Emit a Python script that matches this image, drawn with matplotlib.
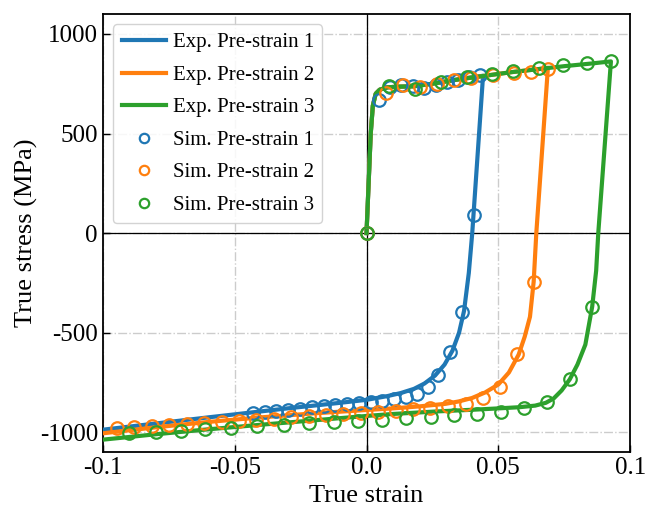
import numpy as np
import matplotlib
matplotlib.use('Agg')
import matplotlib.pyplot as plt
from matplotlib.ticker import FixedLocator, FixedFormatter

plt.rcParams['font.family'] = ['Liberation Serif', 'DejaVu Serif']
plt.rcParams['axes.unicode_minus'] = False

# experimental curves (strain, stress MPa)
exp1_x = [0.0, 0.0008, 0.0016, 0.0024, 0.0035, 0.005, 0.008, 0.012, 0.018, 0.025, 0.035, 0.0442,
          0.0401, 0.0388, 0.0370, 0.0351, 0.0326, 0.0296, 0.026, 0.022, 0.018, 0.013, 0.008, 0.003, 0.0,
          -0.01, -0.02, -0.03, -0.04, -0.06, -0.08, -0.1]
exp1_y = [0, 250, 500, 640, 700, 720, 732, 735, 737, 750, 772, 790,
          0, -200, -390, -500, -590, -660, -715, -755, -782, -803, -818, -830, -837,
          -852, -866, -880, -895, -925, -956, -987]
exp2_x = [0.0, 0.0008, 0.0016, 0.0024, 0.0035, 0.005, 0.008, 0.012, 0.018, 0.025, 0.035, 0.045, 0.055, 0.065, 0.0688,
          0.0644, 0.0634, 0.0620, 0.0600, 0.0577, 0.054, 0.050, 0.045, 0.040, 0.035, 0.030, 0.02, 0.01, 0.0,
          -0.02, -0.04, -0.06, -0.08, -0.1]
exp2_y = [0, 250, 500, 640, 700, 720, 732, 735, 737, 750, 772, 790, 808, 823, 830,
          0, -244, -420, -520, -610, -700, -760, -800, -828, -845, -857, -870, -880, -888,
          -905, -925, -948, -975, -1005]
exp3_x = [0.0, 0.0008, 0.0016, 0.0024, 0.0035, 0.005, 0.008, 0.012, 0.018, 0.025, 0.035, 0.045, 0.055, 0.065,
          0.075, 0.085, 0.0927,
          0.0879, 0.0871, 0.0856, 0.083, 0.080, 0.0771, 0.074, 0.071, 0.068, 0.064, 0.058, 0.05, 0.04,
          0.027, 0.01, 0.0, -0.02, -0.04, -0.06, -0.08, -0.1]
exp3_y = [0, 250, 500, 640, 700, 720, 732, 735, 737, 750, 772, 790, 808, 823,
          838, 851, 862,
          0, -189, -369, -560, -660, -734, -790, -830, -852, -866, -874, -880, -887,
          -895, -908, -918, -940, -962, -985, -1010, -1037]

# simulation points
sim1_x = [0.0, 0.0046, 0.0088, 0.0132, 0.0175, 0.0218, 0.0262, 0.0305, 0.0348, 0.0390, 0.0432,
          0.0406, 0.0363, 0.0315, 0.0273, 0.0233, 0.0191, 0.0148, 0.0104, 0.0059, 0.0016,
          -0.0030, -0.0073, -0.0118, -0.0163, -0.0208, -0.0251, -0.0297, -0.0342, -0.0385, -0.0430]
sim1_y = [0, 668, 735, 745, 738, 728, 745, 760, 770, 782, 792,
          90, -394, -596, -714, -773, -806, -823, -835, -843, -848,
          -854, -860, -865, -869, -874, -882, -887, -892, -896, -902]
sim2_x = [0.0, 0.0073, 0.0138, 0.0203, 0.0268, 0.0333, 0.0398, 0.0480, 0.0561, 0.0624, 0.0687,
          0.0634, 0.0571, 0.0505, 0.0442, 0.0376, 0.0308, 0.0242, 0.0176, 0.0110, 0.0044,
          -0.0022, -0.0088, -0.0154, -0.0220, -0.0286, -0.0352, -0.0418, -0.0484, -0.0550,
          -0.0616, -0.0682, -0.0748, -0.0814, -0.0880, -0.0946]
sim2_y = [0, 705, 745, 735, 748, 768, 780, 792, 803, 810, 823,
          -244, -609, -773, -830, -857, -867, -876, -884, -891, -897,
          -903, -909, -914, -920, -925, -931, -936, -942, -947,
          -953, -958, -964, -969, -975, -980]
sim3_x = [0.0, 0.0087, 0.0185, 0.0283, 0.0380, 0.0475, 0.0556, 0.0654, 0.0745, 0.0836, 0.0927,
          0.0856, 0.0771, 0.0684, 0.0598, 0.0511, 0.0420, 0.0333, 0.0244, 0.0150, 0.0058,
          -0.0034, -0.0125, -0.0220, -0.0314, -0.0415, -0.0515, -0.0612, -0.0705, -0.0800, -0.0900]
sim3_y = [0, 738, 722, 758, 783, 797, 812, 828, 843, 855, 864,
          -369, -734, -850, -880, -896, -906, -915, -921, -929, -936,
          -943, -948, -955, -962, -968, -978, -984, -992, -999, -1004]

xticks = [-0.1, -0.05, 0.0, 0.05, 0.1]
xtick_labels = ['-0.1', '-0.05', '0.0', '0.05', '0.1']
yticks = [-1000, -500, 0, 500, 1000]

colors = ['#1f77b4', '#ff7f0e', '#2ca02c']

fig = plt.figure(figsize=(6.51, 5.18), dpi=100)
ax = fig.add_axes([0.158, 0.127, 0.810, 0.846])

ax.axhline(0, color='black', lw=0.9, zorder=2)
ax.axvline(0, color='black', lw=0.9, zorder=2)

ax.plot(exp1_x, exp1_y, color=colors[0], lw=3, label='Exp. Pre-strain 1', zorder=3)
ax.plot(exp2_x, exp2_y, color=colors[1], lw=3, label='Exp. Pre-strain 2', zorder=3)
ax.plot(exp3_x, exp3_y, color=colors[2], lw=3, label='Exp. Pre-strain 3', zorder=3)

ms = 9
ax.plot(sim1_x, sim1_y, 'o', mfc='none', mec=colors[0], ms=ms, mew=1.6, label='Sim. Pre-strain 1', zorder=4)
ax.plot(sim2_x, sim2_y, 'o', mfc='none', mec=colors[1], ms=ms, mew=1.6, label='Sim. Pre-strain 2', zorder=4)
ax.plot(sim3_x, sim3_y, 'o', mfc='none', mec=colors[2], ms=ms, mew=1.6, label='Sim. Pre-strain 3', zorder=4)

ax.set_xlim(-0.1, 0.1)
ax.set_ylim(-1100, 1100)
ax.xaxis.set_major_locator(FixedLocator(xticks))
ax.xaxis.set_major_formatter(FixedFormatter(xtick_labels))
ax.set_yticks(yticks)
ax.tick_params(direction='in', labelsize=18, length=5, width=1)
ax.grid(True, ls='-.', color='#cccccc', lw=1)
for s in ax.spines.values():
    s.set_linewidth(1.3)

ax.set_xlabel('True strain', fontsize=19)
ax.set_ylabel('True stress (MPa)', fontsize=19, labelpad=1)

leg = ax.legend(loc='upper left', fontsize=15, handlelength=2.15, labelspacing=0.62,
                borderpad=0.4, handletextpad=0.3, framealpha=0.85, fancybox=True,
                markerscale=0.75)
leg.get_frame().set_edgecolor('#cccccc')

fig.savefig('out.png', dpi=100)
